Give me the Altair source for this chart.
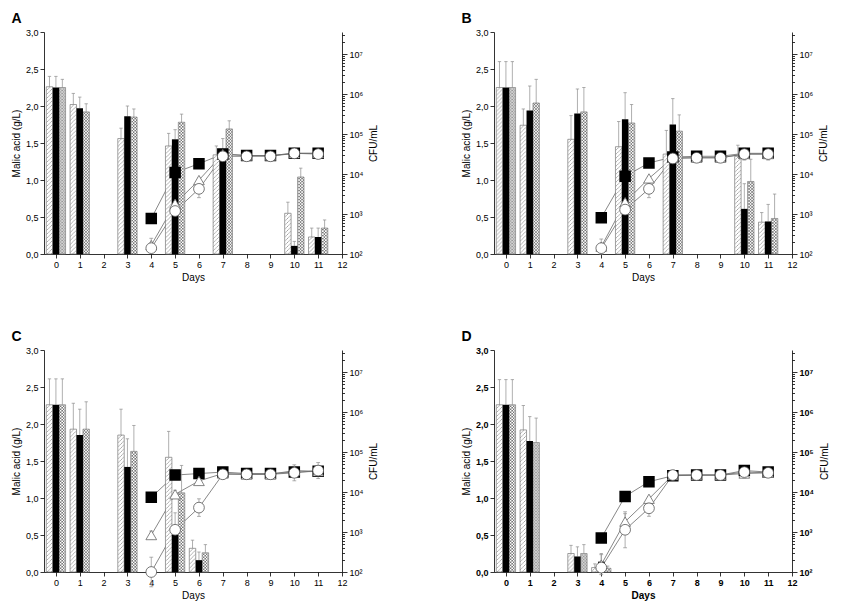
import altair as alt
import pandas as pd
from urllib.parse import quote

FONT = "Liberation Sans"

# ---------------- Malic acid bars (g/L) ----------------
A_days = [0, 1, 3, 5, 7, 10, 11]
A_hatch = [2.26, 2.02, 1.56, 1.46, 1.34, 0.55, 0.23]
A_hatch_err = [0.14, 0.15, 0.14, 0.17, 0.12, 0.15, 0.12]
A_black = [2.25, 1.97, 1.86, 1.55, 1.42, 0.11, 0.23]
A_black_err = [0.15, 0.15, 0.14, 0.13, 0.14, 0.06, 0.12]
A_cross = [2.25, 1.92, 1.85, 1.78, 1.69, 1.04, 0.35]
A_cross_err = [0.11, 0.11, 0.11, 0.11, 0.11, 0.12, 0.11]

B_days = [0, 1, 3, 5, 7, 10, 11]
B_hatch = [2.25, 1.74, 1.55, 1.45, 1.35, 1.32, 0.43]
B_hatch_err = [0.35, 0.22, 0.32, 0.34, 0.32, 0.15, 0.13]
B_black = [2.25, 1.94, 1.90, 1.82, 1.75, 0.61, 0.44]
B_black_err = [0.35, 0.33, 0.33, 0.36, 0.35, 0.34, 0.23]
B_cross = [2.25, 2.04, 1.92, 1.77, 1.66, 0.98, 0.48]
B_cross_err = [0.35, 0.32, 0.33, 0.25, 0.22, 0.30, 0.33]

C_days = [0, 1, 3, 5, 6]
C_hatch = [2.26, 1.93, 1.85, 1.55, 0.32]
C_hatch_err = [0.35, 0.35, 0.35, 0.35, 0.11]
C_black = [2.26, 1.85, 1.42, 0.50, 0.16]
C_black_err = [0.35, 0.35, 0.38, 0.30, 0.11]
C_cross = [2.26, 1.93, 1.63, 1.07, 0.26]
C_cross_err = [0.35, 0.37, 0.35, 0.37, 0.11]

D_days = [0, 1, 3, 4]
D_hatch = [2.26, 1.92, 0.25, 0.06]
D_hatch_err = [0.34, 0.33, 0.11, 0.05]
D_black = [2.26, 1.77, 0.21, 0.14]
D_black_err = [0.34, 0.33, 0.13, 0.11]
D_cross = [2.26, 1.75, 0.25, 0.05]
D_cross_err = [0.34, 0.33, 0.12, 0.03]

# ---------------- Cell counts (CFU/mL) ----------------
cfu_days = [4, 5, 6, 7, 8, 9, 10, 11]
A_sq = [7.7e2, 1.09e4, 1.82e4, 3.17e4, 2.91e4, 2.91e4, 3.31e4, 3.31e4]
A_tri = [1.67e2, 1.82e3, 7.1e3, 3.17e4, 2.91e4, 2.91e4, 3.31e4, 3.31e4]
A_circ = [1.40e2, 1.19e3, 4.27e3, 2.79e4, 2.79e4, 2.79e4, 3.31e4, 3.17e4]
A_tri_err = [0.17, 0.05, 0.05, 0.0, 0.0, 0.0, 0.0, 0.0]
A_circ_err = [0.10, 0.10, 0.22, 0.06, 0.12, 0.12, 0.10, 0.10]

B_sq = [8.1e2, 8.8e3, 1.90e4, 2.67e4, 2.79e4, 2.79e4, 3.31e4, 3.31e4]
B_tri = [1.53e2, 1.98e3, 7.8e3, 2.56e4, 2.56e4, 2.56e4, 3.17e4, 3.17e4]
B_circ = [1.40e2, 1.29e3, 4.27e3, 2.46e4, 2.56e4, 2.56e4, 3.17e4, 3.17e4]
B_tri_err = [0.19, 0.05, 0.05, 0.0, 0.0, 0.0, 0.0, 0.0]
B_circ_err = [0.10, 0.08, 0.22, 0.05, 0.12, 0.12, 0.15, 0.15]

C_sq = [7.4e3, 2.67e4, 2.91e4, 3.17e4, 2.91e4, 2.91e4, 3.17e4, 3.31e4]
C_tri = [8.4e2, 8.8e3, 1.90e4, 2.91e4, 2.79e4, 2.79e4, 3.46e4, 3.31e4]
C_circ = [1.0e2, 1.14e3, 4.09e3, 2.79e4, 2.79e4, 2.79e4, 3.04e4, 3.46e4]
C_tri_err = [0.10, 0.10, 0.10, 0.05, 0.0, 0.0, 0.0, 0.0]
C_circ_err = [0.37, 0.08, 0.22, 0.12, 0.13, 0.13, 0.20, 0.20]

D_sq = [7.1e2, 7.8e3, 1.82e4, 2.56e4, 2.67e4, 2.67e4, 3.46e4, 3.17e4]
D_tri = [1.53e2, 1.82e3, 6.8e3, 2.67e4, 2.67e4, 2.67e4, 2.91e4, 3.04e4]
D_circ = [1.29e2, 1.14e3, 3.93e3, 2.67e4, 2.67e4, 2.67e4, 3.17e4, 3.04e4]
D_tri_err = [0.25, 0.20, 0.05, 0.0, 0.0, 0.0, 0.0, 0.0]
D_circ_err = [0.10, 0.45, 0.20, 0.07, 0.12, 0.12, 0.15, 0.10]

malic_ticks = [0.0, 0.5, 1.0, 1.5, 2.0, 2.5, 3.0]
day_ticks = list(range(13))
cfu_majors = [100, 1000, 10000, 100000, 1000000, 10000000]
cfu_sup = ["10²", "10³", "10⁴", "10⁵", "10⁶", "10⁷"]

# ---------------- tables ----------------
bar_sets = {
    "A": (A_days, [("hatch", A_hatch, A_hatch_err), ("black", A_black, A_black_err), ("cross", A_cross, A_cross_err)]),
    "B": (B_days, [("hatch", B_hatch, B_hatch_err), ("black", B_black, B_black_err), ("cross", B_cross, B_cross_err)]),
    "C": (C_days, [("hatch", C_hatch, C_hatch_err), ("black", C_black, C_black_err), ("cross", C_cross, C_cross_err)]),
    "D": (D_days, [("hatch", D_hatch, D_hatch_err), ("black", D_black, D_black_err), ("cross", D_cross, D_cross_err)]),
}
rows = []
for p, (days, series) in bar_sets.items():
    for s, vals, errs in series:
        for d, v, e in zip(days, vals, errs):
            rows.append({"panel": p, "day": d, "series": s, "value": v, "err": e})
bars_df = pd.DataFrame(rows)

zero = [0.0] * len(cfu_days)
cfu_sets = {
    "A": [("sq", A_sq, zero), ("tri", A_tri, A_tri_err), ("circ", A_circ, A_circ_err)],
    "B": [("sq", B_sq, zero), ("tri", B_tri, B_tri_err), ("circ", B_circ, B_circ_err)],
    "C": [("sq", C_sq, zero), ("tri", C_tri, C_tri_err), ("circ", C_circ, C_circ_err)],
    "D": [("sq", D_sq, zero), ("tri", D_tri, D_tri_err), ("circ", D_circ, D_circ_err)],
}
rows = []
for p, series in cfu_sets.items():
    for s, vals, errs in series:
        for d, v, e in zip(cfu_days, vals, errs):
            rows.append({"panel": p, "day": d, "series": s, "cfu": v, "err": e})
cfu_df = pd.DataFrame(rows)

# ---------------- fill patterns ----------------
HATCH_SVG = ("<svg xmlns='http://www.w3.org/2000/svg'><defs>"
             "<pattern id='p' width='4' height='4' patternUnits='userSpaceOnUse'>"
             "<rect width='4' height='4' fill='white'/>"
             "<path d='M-1,1 L1,-1 M0,4 L4,0 M3,5 L5,3' stroke='#808080' stroke-width='0.6'/>"
             "</pattern></defs><rect width='100%' height='100%' fill='url(#p)'/></svg>")
CROSS_SVG = ("<svg xmlns='http://www.w3.org/2000/svg'><defs>"
             "<pattern id='q' width='3' height='3' patternUnits='userSpaceOnUse'>"
             "<rect width='3' height='3' fill='white'/>"
             "<path d='M0,0 L3,3 M3,0 L0,3' stroke='#6e6e6e' stroke-width='0.7'/>"
             "</pattern></defs><rect width='100%' height='100%' fill='url(#q)'/></svg>")
HATCH_URL = "data:image/svg+xml," + quote(HATCH_SVG)
CROSS_URL = "data:image/svg+xml," + quote(CROSS_SVG)

sup_expr = " : ".join(f"datum.value == {k} ? '{t}'" for k, t in zip(cfu_majors, cfu_sup)) + " : ''"
cfu_tick_values = [k * m for m in cfu_majors for k in range(1, 10) if k * m <= 3.6e7]
major_test = "abs(log(datum.value)/LN10 - round(log(datum.value)/LN10)) < 0.001"

W, H = 298, 222


def panel(p, bold):
    lw = "bold" if bold else "normal"
    bdf = bars_df[bars_df.panel == p]
    cdf = cfu_df[cfu_df.panel == p]

    xscale = alt.Scale(domain=[-0.5, 12], nice=False, zero=False)
    xaxis = alt.Axis(title="Days", values=day_ticks, tickSize=4, labelFlush=False,
                     labelFontWeight=lw, titleFontWeight=lw, grid=False, labelPadding=2, titlePadding=3)
    ylscale = alt.Scale(domain=[0, 3], nice=False, zero=True)
    ylaxis = alt.Axis(title="Malic acid (g/L)", values=malic_ticks, tickSize=4, grid=False,
                      labelExpr="replace(format(datum.value, '.1f'), '.', ',')",
                      labelFontWeight=lw, titlePadding=4, labelFlush=False)
    yrscale = alt.Scale(type="log", domain=[100, 3.6e7], nice=False)
    yraxis = alt.Axis(title="CFU/mL", orient="right", values=cfu_tick_values, labelExpr=sup_expr,
                      tickSize={"condition": {"test": major_test, "value": 5}, "value": 2.5},
                      labelOverlap=False, titleAngle=270, titleBaseline="top", grid=False,
                      labelFontWeight=lw, titlePadding=6, labelFlush=False)

    def X(f):
        return alt.X(f"{f}:Q", scale=xscale, axis=xaxis, title="Days")

    def YL(f):
        return alt.Y(f"{f}:Q", scale=ylscale, axis=ylaxis, title="Malic acid (g/L)")

    def YR(f, axis=True):
        return alt.Y(f"{f}:Q", scale=yrscale, axis=yraxis if axis else None, title="CFU/mL")

    bb = alt.Chart(bdf).transform_calculate(
        xc="datum.day + (datum.series == 'hatch' ? -0.27 : datum.series == 'cross' ? 0.27 : 0)",
        xl="datum.xc - 0.135",
        xr="datum.xc + 0.135",
        top="datum.value + datum.err",
        cl="datum.xc - 0.07",
        cr="datum.xc + 0.07",
    )
    hatch_img = bb.transform_filter("datum.series == 'hatch'").mark_image(aspect=False).encode(
        x=X("xl"), x2="xr:Q", y=YL("value"), y2=alt.datum(0), url=alt.value(HATCH_URL))
    cross_img = bb.transform_filter("datum.series == 'cross'").mark_image(aspect=False).encode(
        x=X("xl"), x2="xr:Q", y=YL("value"), y2=alt.datum(0), url=alt.value(CROSS_URL))
    outline = bb.transform_filter("datum.series != 'black'").mark_rect(
        filled=False, color="#777777", strokeWidth=0.7).encode(
        x=X("xl"), x2="xr:Q", y=YL("value"), y2=alt.datum(0))
    black = bb.transform_filter("datum.series == 'black'").mark_rect(color="black").encode(
        x=X("xl"), x2="xr:Q", y=YL("value"), y2=alt.datum(0))
    err_v = bb.mark_rule(color="#8c8c8c", strokeWidth=0.7).encode(
        x=X("xc"), y=YL("value"), y2="top:Q")
    err_c = bb.mark_rule(color="#8c8c8c", strokeWidth=0.7).encode(
        x=X("cl"), x2="cr:Q", y=YL("top"))
    bars = alt.layer(err_v, err_c, hatch_img, cross_img, outline, black)

    cb = alt.Chart(cdf).transform_calculate(
        lo="datum.cfu / pow(10, datum.err)",
        hi="datum.cfu * pow(10, datum.err)",
        cl="datum.day - 0.08",
        cr="datum.day + 0.08",
    )
    lines = cb.mark_line(color="#6a6a6a", strokeWidth=0.8).encode(
        x=X("day"), y=YR("cfu", axis=False), detail="series:N")
    perr = cb.transform_filter("datum.err > 0").mark_rule(color="#8c8c8c", strokeWidth=0.7).encode(
        x=X("day"), y=YR("lo"), y2="hi:Q")
    pcap_lo = cb.transform_filter("datum.err > 0").mark_rule(color="#8c8c8c", strokeWidth=0.7).encode(
        x=X("cl"), x2="cr:Q", y=YR("lo"))
    pcap_hi = cb.transform_filter("datum.err > 0").mark_rule(color="#8c8c8c", strokeWidth=0.7).encode(
        x=X("cl"), x2="cr:Q", y=YR("hi"))
    sq = cb.transform_filter("datum.series == 'sq'").mark_point(
        shape="square", filled=True, fill="black", stroke="black", size=90, opacity=1).encode(
        x=X("day"), y=YR("cfu"))
    tri = cb.transform_filter("datum.series == 'tri'").mark_point(
        shape="triangle-up", filled=True, fill="white", stroke="#666666", strokeWidth=0.8,
        size=115, opacity=1).encode(x=X("day"), y=YR("cfu"))
    circ = cb.transform_filter("datum.series == 'circ'").mark_point(
        shape="circle", filled=True, fill="white", stroke="#555555", strokeWidth=0.8,
        size=115, opacity=1).encode(x=X("day"), y=YR("cfu"))
    points = alt.layer(perr, pcap_lo, pcap_hi, sq, tri, circ)

    return alt.layer(lines, bars, points).resolve_scale(y="independent").properties(
        width=W, height=H,
        title=alt.TitleParams(text=p, anchor="start", fontSize=14, fontWeight="bold",
                              font=FONT, offset=2),
    )


row1 = alt.hconcat(panel("A", False), panel("B", False), spacing=82)
row2 = alt.hconcat(panel("C", False), panel("D", True), spacing=82)
chart = alt.vconcat(row1, row2, spacing=48).properties(
    padding={"left": 3, "top": 4, "right": 2, "bottom": 2}
).configure_view(stroke=None).configure_axis(
    labelFont=FONT, titleFont=FONT, labelFontSize=9, titleFontSize=10,
    labelColor="black", titleColor="black", domainColor="black", tickColor="black",
    domainWidth=0.8, tickWidth=0.8, titleFontWeight="normal",
).configure_title(font=FONT)

chart.save("out.html", embed_options={"renderer": "svg", "actions": False})
